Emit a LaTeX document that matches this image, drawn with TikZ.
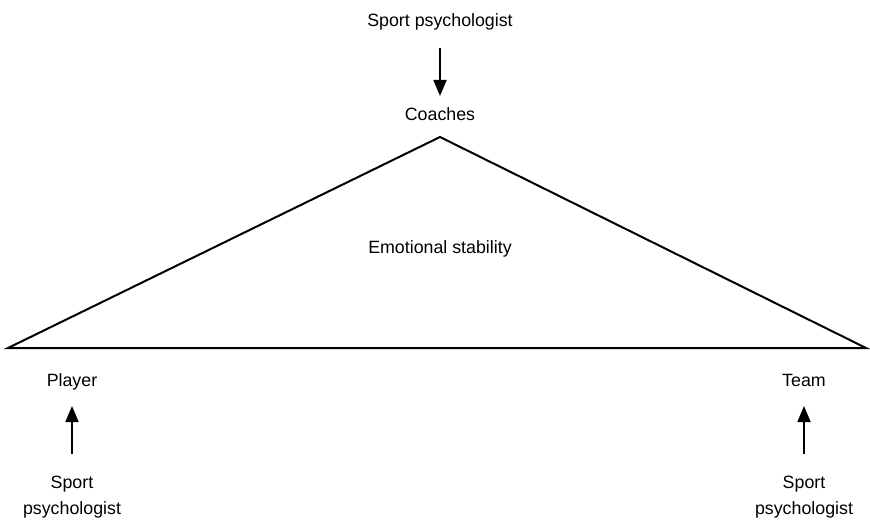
\documentclass[tikz,border=0pt]{standalone}
\usepackage{fontspec}
\setmainfont{Liberation Sans}
\usetikzlibrary{arrows.meta}
\begin{document}
\begin{tikzpicture}[x=1pt,y=-1pt,
  lbl/.style={font=\fontsize{17.8}{26}\selectfont, inner sep=0pt, align=center},
  edge/.style={line width=2pt, line join=miter},
  push/.style={line width=1.8pt, -{Triangle[length=16pt,width=13pt]}}]
\useasboundingbox (0,0) rectangle (870,524);
% triangle of emotional stability
\coordinate (apex) at (440,137);
\coordinate (bl) at (8,348);
\coordinate (br) at (866,348);
\draw[edge] (bl) -- (apex) -- (br) -- cycle;
\node[lbl] (emo) at (440,249) {Emotional stability};
% corner labels
\node[lbl] (coach) at (440,114) {Coaches};
\node[lbl, anchor=base] (player) at (72,386) {Player};
\node[lbl, anchor=base] (team) at (804,386) {Team};
% sport psychologists
\node[lbl] (sptop) at (440,22) {Sport psychologist};
\node[lbl] (spl) at (72,497) {Sport\\psychologist};
\node[lbl] (spr) at (804,497) {Sport\\psychologist};
% arrows
\coordinate (t0) at (440,48);
\coordinate (t1) at (440,96);
\coordinate (l0) at (72,454);
\coordinate (l1) at (72,406);
\coordinate (r0) at (804,454);
\coordinate (r1) at (804,406);
\draw[push] (t0) -- (t1);
\draw[push] (l0) -- (l1);
\draw[push] (r0) -- (r1);
\end{tikzpicture}
\end{document}
